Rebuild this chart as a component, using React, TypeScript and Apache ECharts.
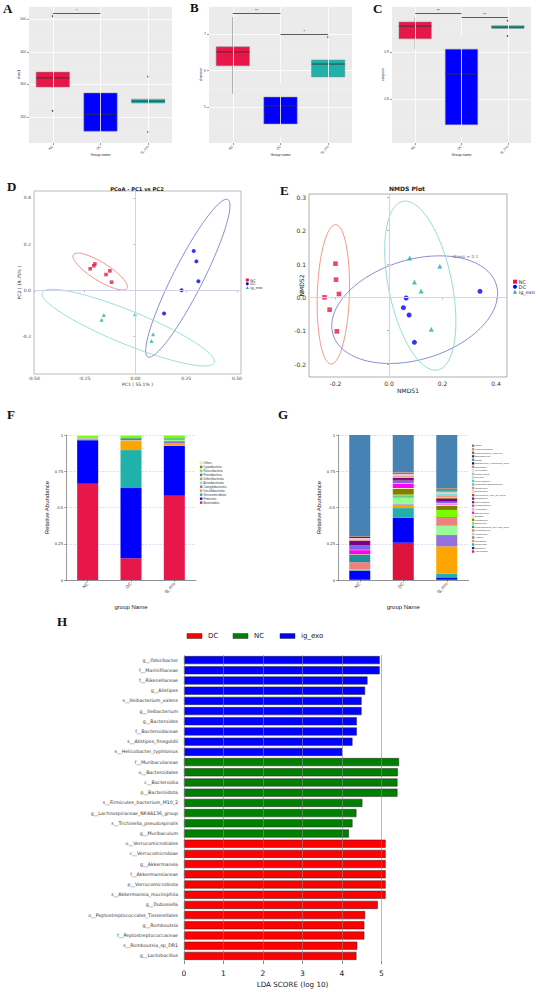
import React, { useEffect, useRef } from 'react';
import * as echarts from 'echarts';

const groups = ['NC', 'DC', 'ig_exo'];
const groupColors = ['#E8174A', '#0000FF', '#20B2AA'];

// A: chao1 [min, Q1, median, Q3, max]
const chaoBox = [[289, 292, 320, 338, 338], [139, 157, 209, 274, 277], [243, 243, 249, 255, 255]];
const chaoOutliers: [string, number][] = [['NC', 509], ['NC', 219], ['ig_exo', 324], ['ig_exo', 154]];
const chaoSig: [string, string, number, string][] = [['NC', 'DC', 518, '*']];
// B: shannon
const shannonBox = [[5.37, 6.13, 6.51, 6.65, 7.46], [4.19, 4.55, 5.04, 5.28, 5.63], [5.8, 5.83, 6.18, 6.29, 6.29]];
const shannonOutliers: [string, number][] = [['ig_exo', 6.91]];
const shannonSig: [string, string, number, string][] = [['NC', 'DC', 7.57, '**'], ['DC', 'ig_exo', 7.0, '*']];
// C: simpson
const simpsonBox = [[0.906, 0.928, 0.955, 0.964, 0.974], [0.719, 0.745, 0.853, 0.906, 0.932], [0.95, 0.95, 0.953, 0.956, 0.956]];
const simpsonOutliers: [string, number][] = [['ig_exo', 0.967], ['ig_exo', 0.934]];
const simpsonSig: [string, string, number, string][] = [['NC', 'DC', 0.983, '**'], ['DC', 'ig_exo', 0.974, '**']];

// D: PCoA points
const pcoaNC = [[-0.223, 0.093], [-0.205, 0.106], [-0.2, 0.114], [-0.145, 0.068], [-0.126, 0.084], [-0.118, 0.035]];
const pcoaDC = [[0.287, 0.17], [0.3, 0.125], [0.31, 0.039], [0.227, 0.0], [0.141, -0.101]];
const pcoaIg = [[-0.156, -0.107], [-0.167, -0.128], [-0.002, -0.104], [0.087, -0.191], [0.079, -0.22]];
// ellipses: [cx, cy, ux, uy, vx, vy]
const pcoaEllipses = [
  [-0.174, 0.081, 0.132, -0.0725, -0.0235, -0.0332],
  [0.258, 0.052, 0.197, 0.341, 0.0657, -0.0297],
  [-0.036, -0.162, 0.424, -0.152, -0.031, -0.067],
];
// E: NMDS points
const nmdsNC = [[-0.2, 0.101], [-0.198, 0.053], [-0.187, 0.01], [-0.241, 0.0], [-0.222, -0.037], [-0.195, -0.102]];
const nmdsDC = [[0.064, -0.002], [0.054, -0.031], [0.075, -0.053], [0.095, -0.135], [0.34, 0.018]];
const nmdsIg = [[0.077, 0.118], [0.19, 0.093], [0.095, 0.046], [0.12, 0.019], [0.158, -0.096]];
const nmdsEllipses = [
  [-0.208, 0.009, 0.008, 0.209, 0.06, 0],
  [0.096, -0.037, 0.305, 0.075, -0.055, 0.143],
  [0.117, 0.035, -0.065, 0.253, 0.116, 0.019],
];
const stressPos = [[0.237, 0.123]];

// F: phylum (bottom-up)
const phyla = ['Bacteroidota', 'Firmicutes', 'Verrucomicrobiota', 'Desulfobacterota', 'Campylobacterota', 'Actinobacteriota', 'Deferribacterota', 'Proteobacteria', 'Patescibacteria', 'Cyanobacteria', 'Others'];
const phylaColors = ['#E8174A', '#0000FF', '#20B2AA', '#FFA500', '#9370DB', '#98FB98', '#F08080', '#1F8FA0', '#7CFC00', '#808000', '#FFFF99'];
const phylaNC = [0.664, 0.3, 0.002, 0.008, 0.002, 0.002, 0.001, 0.003, 0.013, 0.001, 0.004];
const phylaDC = [0.15, 0.484, 0.262, 0.058, 0.004, 0.004, 0.004, 0.012, 0.018, 0.001, 0.003];
const phylaIg = [0.581, 0.343, 0.002, 0.016, 0.016, 0.008, 0.003, 0.008, 0.018, 0.002, 0.003];

// G: genus (bottom-up)
const genera = ['Akkermansia', 'Dubosiella', 'Romboutsia', 'Odoribacter', 'Alistipes', 'Ileibacterium', 'Faecalibaculum', 'Lachnospiraceae_NK4A136_group', 'Bacteroides', 'Lactobacillus', 'Bilophila', 'Streptococcus', 'Helicobacter', 'Ligilactobacillus', 'Enterorhabdus', 'Muribaculum', 'Rikenellaceae_RC9_gut_group', 'Desulfovibrio', 'Mucispirillum', 'Candidatus_Saccharimonas', 'Colidextribacter', 'Rikenella', 'Ruminococcus', 'Mycoplasma', 'Oscillibacter', '[Eubacterium]_xylanophilum_group', 'Blautia', 'Bifidobacterium', 'Lachnospiraceae_UCG-006', 'Lachnoclostridium', 'Others'];
const generaColors = ['#DC143C', '#0000FF', '#20B2AA', '#FFA500', '#9370DB', '#98FB98', '#F08080', '#1F8FA0', '#7CFC00', '#808000', '#FFFF99', '#FF00FF', '#FFB6C1', '#7B68EE', '#8B0A50', '#800080', '#A0522D', '#FFDAB9', '#E9967A', '#66CDAA', '#40E0D0', '#AFEEEE', '#D8BFD8', '#F0F0F0', '#FF69B4', '#00008B', '#2A9D8F', '#8B008B', '#228B22', '#FA8072', '#4682B4'];
const generaNC = [0.002, 0.062, 0.004, 0.002, 0.002, 0.001, 0.05, 0.05, 0.002, 0.002, 0.001, 0.028, 0.002, 0.03, 0.003, 0.03, 0.002, 0.002, 0.002, 0.002, 0.002, 0.002, 0.003, 0.002, 0.002, 0.006, 0.002, 0.002, 0.002, 0.002, 0.696];
const generaDC = [0.257, 0.172, 0.067, 0.023, 0.004, 0.044, 0.004, 0.006, 0.012, 0.039, 0.006, 0.03, 0.004, 0.018, 0.004, 0.014, 0.003, 0.003, 0.006, 0.003, 0.003, 0.002, 0.003, 0.002, 0.002, 0.002, 0.002, 0.003, 0.002, 0.003, 0.257];
const generaIg = [0.002, 0.016, 0.025, 0.189, 0.078, 0.064, 0.053, 0.006, 0.05, 0.03, 0.005, 0.004, 0.008, 0.01, 0.005, 0.016, 0.008, 0.004, 0.01, 0.006, 0.008, 0.004, 0.006, 0.002, 0.003, 0.003, 0.01, 0.003, 0.004, 0.003, 0.365];

// H: LEfSe
const ldaNames = ['g__Odoribacter', 'f__Marinifilaceae', 'f__Rikenellaceae', 'g__Alistipes', 's__Ileibacterium_valens', 'g__Ileibacterium', 'g__Bacteroides', 'f__Bacteroidaceae', 's__Alistipes_finegoldii', 's__Helicobacter_typhlonius', 'f__Muribaculaceae', 'o__Bacteroidales', 'c__Bacteroidia', 'p__Bacteroidota', 's__Firmicutes_bacterium_M10_2', 'g__Lachnospiraceae_NK4A136_group', 's__Trichinella_pseudospiralis', 'g__Muribaculum', 'o__Verrucomicrobiales', 'c__Verrucomicrobiae', 'g__Akkermansia', 'f__Akkermansiaceae', 'p__Verrucomicrobiota', 's__Akkermansia_muciniphila', 'g__Dubosiella', 'o__Peptostreptococcales_Tissierellales', 'g__Romboutsia', 'f__Peptostreptococcaceae', 's__Romboutsia_sp_DR1', 'g__Lactobacillus'];
const ldaGroup = ['ig_exo', 'ig_exo', 'ig_exo', 'ig_exo', 'ig_exo', 'ig_exo', 'ig_exo', 'ig_exo', 'ig_exo', 'ig_exo', 'NC', 'NC', 'NC', 'NC', 'NC', 'NC', 'NC', 'NC', 'DC', 'DC', 'DC', 'DC', 'DC', 'DC', 'DC', 'DC', 'DC', 'DC', 'DC', 'DC'];
const ldaScores = [4.96, 4.96, 4.65, 4.59, 4.5, 4.5, 4.38, 4.38, 4.27, 4.01, 5.45, 5.42, 5.41, 5.41, 4.52, 4.37, 4.27, 4.18, 5.11, 5.11, 5.11, 5.11, 5.11, 5.11, 4.91, 4.59, 4.57, 4.57, 4.39, 4.37];
const ldaClasses = ['DC', 'NC', 'ig_exo'];
const ldaColors = ['#FF0000', '#008000', '#0000FF'];
const ldaTicks = [0, 1, 2, 3, 4, 5];

const SANS = 'Liberation Sans';
const DV = 'DejaVu Sans';

function ellipseRender(colors: string[]) {
  return (params: any, api: any) => {
    const cx = api.value(0), cy = api.value(1), ux = api.value(2), uy = api.value(3), vx = api.value(4), vy = api.value(5);
    const pts: number[][] = [];
    const n = 120;
    for (let k = 0; k <= n; k++) {
      const t = (k / n) * Math.PI * 2;
      pts.push(api.coord([cx + ux * Math.cos(t) + vx * Math.sin(t), cy + uy * Math.cos(t) + vy * Math.sin(t)]));
    }
    return { type: 'polyline', shape: { points: pts }, style: { stroke: colors[params.dataIndex], fill: 'none', lineWidth: 0.9 } };
  };
}

// ggplot-like box (no whisker caps)
function boxRender(colors: string[]) {
  return (params: any, api: any) => {
    const x = api.value(0);
    const mn = api.value(1), q1 = api.value(2), md = api.value(3), q3 = api.value(4), mx = api.value(5);
    const bw = api.size([1, 0])[0] * 0.7;
    const pMin = api.coord([x, mn]);
    const pQ1 = api.coord([x, q1]);
    const pMd = api.coord([x, md]);
    const pQ3 = api.coord([x, q3]);
    const pMax = api.coord([x, mx]);
    const cx = pMin[0];
    return {
      type: 'group',
      children: [
        { type: 'line', shape: { x1: cx, y1: pMin[1], x2: cx, y2: pQ1[1] }, style: { stroke: '#5A5A5A', lineWidth: 0.6 } },
        { type: 'line', shape: { x1: cx, y1: pQ3[1], x2: cx, y2: pMax[1] }, style: { stroke: '#5A5A5A', lineWidth: 0.6 } },
        { type: 'rect', shape: { x: cx - bw / 2, y: pQ3[1], width: bw, height: Math.max(pQ1[1] - pQ3[1], 0.5) }, style: { fill: colors[params.dataIndex], stroke: '#8A8A8A', lineWidth: 0.5 } },
        { type: 'line', shape: { x1: cx - bw / 2, y1: pMd[1], x2: cx + bw / 2, y2: pMd[1] }, style: { stroke: '#333333', lineWidth: 0.9 } },
      ],
    };
  };
}

function buildOption() {
  const grid: any[] = [];
  const xAxis: any[] = [];
  const yAxis: any[] = [];
  const series: any[] = [];
  const graphic: any[] = [];

  // ---------- A, B, C box plots ----------
  const boxPanels = [
    { rect: [29, 6, 143, 137], box: chaoBox, out: chaoOutliers, sig: chaoSig, name: 'chao1', min: 121, max: 540, split: 4, gap: 8 },
    { rect: [209, 6, 143, 137], box: shannonBox, out: shannonOutliers, sig: shannonSig, name: 'shannon', min: 4.03, max: 7.76, split: 4, gap: 6 },
    { rect: [392, 6, 139, 137], box: simpsonBox, out: simpsonOutliers, sig: simpsonSig, name: 'simpson', min: 0.706, max: 0.998, split: 3, gap: 7 },
  ];
  boxPanels.forEach((p, gi) => {
    grid.push({ left: p.rect[0], top: p.rect[1], width: p.rect[2], height: p.rect[3], show: true, backgroundColor: '#EBEBEB', borderWidth: 0, outerBoundsMode: 'none' });
    xAxis.push({
      type: 'category', gridIndex: gi, data: groups,
      axisLine: { show: false },
      axisTick: { show: true, alignWithLabel: true, length: 2, lineStyle: { color: '#333', width: 0.5 } },
      axisLabel: { rotate: 45, fontSize: 3.5, color: '#4D4D4D', margin: 3, fontFamily: SANS },
      splitLine: { show: false },
      name: 'Group name', nameLocation: 'middle', nameGap: 10, nameMoveOverlap: false,
      nameTextStyle: { fontSize: 3.6, color: '#222', fontFamily: SANS },
    });
    yAxis.push({
      type: 'value', gridIndex: gi, min: p.min, max: p.max, splitNumber: p.split,
      axisLine: { show: false },
      axisTick: { show: true, length: 2, lineStyle: { color: '#333', width: 0.5 } },
      axisLabel: { fontSize: 3.5, color: '#4D4D4D', margin: 3, showMinLabel: false, showMaxLabel: false, fontFamily: SANS },
      splitLine: { show: true, lineStyle: { color: '#FFFFFF', width: 0.8 } },
      minorTick: { show: false, splitNumber: 2 },
      minorSplitLine: { show: true, lineStyle: { color: '#F6F6F6', width: 0.4 } },
      name: p.name, nameLocation: 'middle', nameGap: p.gap, nameRotate: 90, nameMoveOverlap: false,
      nameTextStyle: { fontSize: 3.5, color: '#222', fontFamily: SANS },
    });
    series.push({
      type: 'line', xAxisIndex: gi, yAxisIndex: gi, data: [], z: 1, silent: true,
      markLine: {
        silent: true, symbol: 'none', animation: false, label: { show: false },
        lineStyle: { color: '#FFFFFF', width: 0.8, type: 'solid' },
        data: groups.map((g, k) => ({ xAxis: k })),
      },
    });
    series.push({
      type: 'custom', xAxisIndex: gi, yAxisIndex: gi, z: 3, silent: true,
      data: p.box.map((v, k) => [k, ...v]),
      encode: { x: 0, y: [1, 2, 3, 4, 5] },
      renderItem: boxRender(groupColors),
    });
    series.push({
      type: 'scatter', xAxisIndex: gi, yAxisIndex: gi, z: 4, symbolSize: 2,
      itemStyle: { color: '#222' },
      data: p.out.map(([g, v]) => [groups.indexOf(g), v]),
    });
    series.push({
      type: 'line', xAxisIndex: gi, yAxisIndex: gi, data: [], z: 5, silent: true,
      markLine: {
        silent: true, symbol: 'none', animation: false,
        lineStyle: { color: '#333', width: 0.8, type: 'solid' },
        label: { show: true, position: 'middle', fontSize: 4, color: '#222', distance: 0.5 },
        data: p.sig.map(([a, b, v, t]) => [
          { coord: [groups.indexOf(a), v], label: { formatter: t } },
          { coord: [groups.indexOf(b), v] },
        ]),
      },
    });
  });

  // ---------- D PCoA ----------
  const symbols = ['rect', 'circle', 'triangle'];
  const ellColorsD = ['#EE8570', '#7E7EC8', '#8FDDD5'];
  grid.push({ left: 34, top: 191, width: 207, height: 183, show: true, backgroundColor: '#FFFFFF', borderColor: '#AAAAAA', borderWidth: 0.8, outerBoundsMode: 'none' });
  xAxis.push({
    type: 'value', gridIndex: 3, min: -0.5, max: 0.52, interval: 0.25,
    axisLine: { show: false },
    axisTick: { show: true, length: 2, lineStyle: { color: '#666', width: 0.5 } },
    axisLabel: { fontSize: 4.5, color: '#444', margin: 2, showMaxLabel: false, fontFamily: DV, formatter: (v: number) => v.toFixed(2) },
    splitLine: { show: false },
    name: 'PC1 ( 55.1% )', nameLocation: 'middle', nameGap: 8, nameMoveOverlap: false,
    nameTextStyle: { fontSize: 4.5, color: '#333', fontFamily: DV },
  });
  yAxis.push({
    type: 'value', gridIndex: 3, min: -0.363, max: 0.43, splitNumber: 4,
    axisLine: { show: false },
    axisTick: { show: true, length: 2, lineStyle: { color: '#666', width: 0.5 } },
    axisLabel: { fontSize: 4.5, color: '#444', margin: 3, showMinLabel: false, showMaxLabel: false, fontFamily: DV, formatter: (v: number) => v.toFixed(1) },
    splitLine: { show: false },
    name: 'PC2 ( 19.75% )', nameLocation: 'middle', nameGap: 12, nameRotate: 90, nameMoveOverlap: false,
    nameTextStyle: { fontSize: 4.5, color: '#333', fontFamily: DV },
  });
  series.push({
    type: 'line', xAxisIndex: 3, yAxisIndex: 3, data: [], z: 1, silent: true,
    markLine: {
      silent: true, symbol: 'none', animation: false, label: { show: false },
      lineStyle: { color: '#CFCFEF', width: 1, type: 'solid' },
      data: [{ xAxis: 0 }, { yAxis: 0 }],
    },
  });
  series.push({ type: 'custom', xAxisIndex: 3, yAxisIndex: 3, z: 2, silent: true, clip: false, data: pcoaEllipses, encode: { x: 0, y: 1 }, renderItem: ellipseRender(ellColorsD) });
  [pcoaNC, pcoaDC, pcoaIg].forEach((pts, k) => {
    series.push({ type: 'scatter', name: groups[k], xAxisIndex: 3, yAxisIndex: 3, z: 4, symbol: symbols[k], symbolSize: k === 0 ? 3.6 : 4, itemStyle: { color: groupColors[k] }, data: pts });
  });

  // ---------- E NMDS ----------
  const ellColorsE = ['#F08A78', '#7E80C8', '#86D9D0'];
  grid.push({ left: 309, top: 194, width: 198, height: 183, show: true, backgroundColor: '#FFFFFF', borderColor: '#9A9A9A', borderWidth: 0.8, outerBoundsMode: 'none' });
  xAxis.push({
    type: 'value', gridIndex: 4, min: -0.299, max: 0.441, splitNumber: 4,
    axisLine: { show: false },
    axisTick: { show: true, length: 2, lineStyle: { color: '#666', width: 0.5 } },
    axisLabel: { fontSize: 6, color: '#333', margin: 3, showMinLabel: false, showMaxLabel: false, fontFamily: DV, formatter: (v: number) => v.toFixed(1) },
    splitLine: { show: false },
    name: 'NMDS1', nameLocation: 'middle', nameGap: 10, nameMoveOverlap: false,
    nameTextStyle: { fontSize: 6, color: '#222', fontFamily: DV },
  });
  yAxis.push({
    type: 'value', gridIndex: 4, min: -0.239, max: 0.31, splitNumber: 5,
    axisLine: { show: false },
    axisTick: { show: true, length: 2, lineStyle: { color: '#666', width: 0.5 } },
    axisLabel: { fontSize: 6, color: '#333', margin: 3, showMinLabel: false, showMaxLabel: false, fontFamily: DV, formatter: (v: number) => v.toFixed(1) },
    splitLine: { show: false },
    name: 'NMDS2', nameLocation: 'middle', nameGap: 5, nameRotate: 90, nameMoveOverlap: false,
    nameTextStyle: { fontSize: 6, color: '#222', fontFamily: DV },
  });
  series.push({
    type: 'line', xAxisIndex: 4, yAxisIndex: 4, data: [], z: 1, silent: true,
    markLine: {
      silent: true, symbol: 'none', animation: false, label: { show: false },
      lineStyle: { color: '#D3D3F0', width: 1.2, type: 'solid' },
      data: [{ xAxis: 0 }, { yAxis: 0 }],
    },
  });
  series.push({ type: 'custom', xAxisIndex: 4, yAxisIndex: 4, z: 2, silent: true, clip: false, data: nmdsEllipses, encode: { x: 0, y: 1 }, renderItem: ellipseRender(ellColorsE) });
  [nmdsNC, nmdsDC, nmdsIg].forEach((pts, k) => {
    series.push({ type: 'scatter', name: groups[k], xAxisIndex: 4, yAxisIndex: 4, z: 4, symbol: symbols[k], symbolSize: k === 0 ? 4.6 : 5, itemStyle: { color: groupColors[k] }, data: pts });
  });
  series.push({
    type: 'scatter', xAxisIndex: 4, yAxisIndex: 4, z: 5, symbolSize: 0, data: stressPos, silent: true,
    label: { show: true, position: 'right', distance: 0, formatter: 'Stress = 0.1', fontSize: 4.2, color: '#333', fontFamily: DV },
  });

  // ---------- F, G stacked bars ----------
  const stackPanels = [
    { gi: 5, rect: [66, 435, 130, 145], taxa: phyla, colors: phylaColors, vals: [phylaNC, phylaDC, phylaIg] },
    { gi: 6, rect: [338, 435, 130.5, 145], taxa: genera, colors: generaColors, vals: [generaNC, generaDC, generaIg] },
  ];
  stackPanels.forEach((p) => {
    grid.push({ left: p.rect[0], top: p.rect[1], width: p.rect[2], height: p.rect[3], outerBoundsMode: 'none' });
    xAxis.push({
      type: 'category', gridIndex: p.gi, data: groups,
      axisLine: { show: true, lineStyle: { color: '#555', width: 0.6 } },
      axisTick: { show: true, alignWithLabel: true, length: 2, lineStyle: { color: '#555', width: 0.5 } },
      axisLabel: { rotate: 45, fontSize: 4.5, color: '#333', margin: 3, fontFamily: SANS },
      name: 'group Name', nameLocation: 'middle', nameGap: 24, nameMoveOverlap: false,
      nameTextStyle: { fontSize: 6, color: '#222', fontFamily: SANS },
    });
    yAxis.push({
      type: 'value', gridIndex: p.gi, min: 0, max: 1, interval: 0.25,
      axisLine: { show: true, lineStyle: { color: '#555', width: 0.6 } },
      axisTick: { show: true, length: 2, lineStyle: { color: '#555', width: 0.5 } },
      axisLabel: { fontSize: 4.2, color: '#333', margin: 3, fontFamily: SANS },
      splitLine: { show: true, lineStyle: { color: '#C8C8F0', width: 0.6, type: 'dashed' } },
      name: 'Relative Abundance', nameLocation: 'middle', nameGap: 16, nameRotate: 90, nameMoveOverlap: false,
      nameTextStyle: { fontSize: 6, color: '#222', fontFamily: SANS },
    });
    p.taxa.forEach((t, i) => {
      series.push({
        type: 'bar', name: t, xAxisIndex: p.gi, yAxisIndex: p.gi, stack: 'ab' + p.gi, barWidth: 21,
        itemStyle: { color: p.colors[i] },
        data: p.vals.map((arr) => arr[i]),
      });
    });
  });

  // legends F and G
  const legF = phyla.slice().reverse();
  const legFCol = phylaColors.slice().reverse();
  legF.forEach((t, i) => {
    const y = 463 + i * 3.97;
    graphic.push({ type: 'rect', shape: { x: 200, y: y - 1.15, width: 2.3, height: 2.3 }, style: { fill: legFCol[i], stroke: '#888', lineWidth: 0.2 } });
    graphic.push({ type: 'text', x: 203.5, y, style: { text: t, fontSize: 2.8, fontFamily: SANS, fill: '#333', verticalAlign: 'middle', align: 'left' } });
  });
  const legG = genera.slice().reverse();
  const legGCol = generaColors.slice().reverse();
  legG.forEach((t, i) => {
    const y = 445.7 + i * 3.53;
    graphic.push({ type: 'rect', shape: { x: 472, y: y - 1.1, width: 2.2, height: 2.2 }, style: { fill: legGCol[i], stroke: '#888', lineWidth: 0.2 } });
    graphic.push({ type: 'text', x: 475, y, style: { text: t, fontSize: 2.2, fontFamily: SANS, fill: '#333', verticalAlign: 'middle', align: 'left' } });
  });

  // ---------- H LEfSe ----------
  grid.push({ left: 184, top: 655, width: 217, height: 306, outerBoundsMode: 'none' });
  xAxis.push({
    type: 'value', gridIndex: 7, min: 0, max: 5.5, interval: 1,
    axisLine: { show: false },
    axisTick: { show: true, length: 3, lineStyle: { color: '#333', width: 0.6 } },
    axisLabel: { fontSize: 7.5, color: '#222', margin: 8, showMaxLabel: false, fontFamily: DV },
    splitLine: { show: false },
    name: 'LDA SCORE (log 10)', nameLocation: 'middle', nameGap: 20, nameMoveOverlap: false,
    nameTextStyle: { fontSize: 7.2, color: '#222', fontFamily: DV },
  });
  yAxis.push({
    type: 'category', gridIndex: 7, data: ldaNames, inverse: true,
    axisLine: { show: false }, axisTick: { show: false },
    axisLabel: { fontSize: 4.7, color: '#333', margin: 6, interval: 0, fontFamily: DV },
  });
  series.push({
    type: 'line', xAxisIndex: 7, yAxisIndex: 7, data: [], z: 1, silent: true,
    markLine: {
      silent: true, symbol: 'none', animation: false, label: { show: false },
      lineStyle: { color: '#8A8A8A', width: 0.6, type: 'solid' },
      data: ldaTicks.map((t) => ({ xAxis: t })),
    },
  });
  ldaClasses.forEach((c, k) => {
    series.push({
      type: 'bar', name: c, xAxisIndex: 7, yAxisIndex: 7, z: 3, barWidth: 8, barGap: '-100%',
      itemStyle: { color: ldaColors[k], borderColor: '#222', borderWidth: 0.5 },
      data: ldaNames.map((n, i) => (ldaGroup[i] === c ? ldaScores[i] : null)),
    });
  });
  const legHx = [187, 233, 280];
  ldaClasses.forEach((c, k) => {
    graphic.push({ type: 'rect', shape: { x: legHx[k], y: 633.5, width: 15, height: 5 }, style: { fill: ldaColors[k], stroke: '#333', lineWidth: 0.5 } });
    graphic.push({ type: 'text', x: legHx[k] + 21, y: 636, style: { text: c, fontSize: 7, fontFamily: DV, fill: '#222', verticalAlign: 'middle', align: 'left' } });
  });

  // ---------- legends D & E ----------
  const addSymLegend = (x: number, y0: number, gap: number, s: number, fs: number, tx: number) => {
    groups.forEach((g, k) => {
      const y = y0 + k * gap;
      const c = groupColors[k];
      if (k === 0) graphic.push({ type: 'rect', shape: { x: x - s / 2, y: y - s / 2, width: s, height: s }, style: { fill: c } });
      else if (k === 1) graphic.push({ type: 'circle', shape: { cx: x, cy: y, r: s / 2 }, style: { fill: c } });
      else graphic.push({ type: 'polygon', shape: { points: [[x, y - s / 2], [x + s / 2, y + s / 2], [x - s / 2, y + s / 2]] }, style: { fill: c } });
      graphic.push({ type: 'text', x: tx, y, style: { text: g, fontSize: fs, fontFamily: DV, fill: '#333', verticalAlign: 'middle', align: 'left' } });
    });
  };
  addSymLegend(247.3, 280, 3.8, 3, 3.8, 250.3);
  addSymLegend(515, 281.7, 5, 4, 5, 518.8);

  // titles
  graphic.push({ type: 'text', x: 137, y: 188.5, style: { text: 'PCoA - PC1 vs PC2', fontSize: 5.2, fontWeight: 'bold', fontFamily: DV, fill: '#222', align: 'center', verticalAlign: 'middle' } });
  graphic.push({ type: 'text', x: 407, y: 188.5, style: { text: 'NMDS Plot', fontSize: 6, fontWeight: 'bold', fontFamily: DV, fill: '#222', align: 'center', verticalAlign: 'middle' } });

  // panel letters
  const letters: [string, number, number][] = [['A', 3, 2], ['B', 190, 1], ['C', 373, 2], ['D', 7, 180], ['E', 280, 184], ['F', 7, 408], ['G', 278, 408], ['H', 57, 615]];
  letters.forEach(([t, x, y]) => {
    graphic.push({ type: 'text', x, y, style: { text: t, fontSize: 13, fontWeight: 'bold', fontFamily: 'Liberation Serif', fill: '#111', align: 'left', verticalAlign: 'top' } });
  });

  return {
    animation: false,
    backgroundColor: '#FFFFFF',
    textStyle: { fontFamily: SANS },
    grid, xAxis, yAxis, series,
    graphic: { elements: graphic },
  };
}

export default function App() {
  const ref = useRef<HTMLDivElement>(null);
  useEffect(() => {
    const chart = echarts.init(ref.current as HTMLDivElement, null, { renderer: 'svg' });
    chart.setOption(buildOption() as any);
    return () => chart.dispose();
  }, []);
  return <div ref={ref} style={{ position: 'absolute', left: 0, top: 0, width: 539, height: 992, background: '#fff' }} />;
}
